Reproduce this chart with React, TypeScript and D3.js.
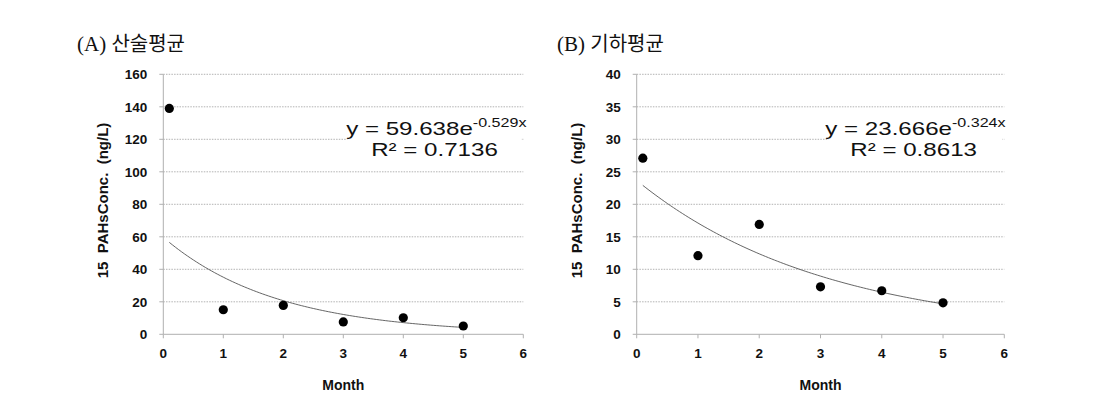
import React from "react";
import * as d3 from "d3";

const months = [0.1, 1, 2, 3, 4, 5];
const seriesA = [139, 15.1, 17.8, 7.6, 10.2, 5.1];
const seriesB = [27.1, 12.1, 16.9, 7.3, 6.7, 4.85];
const ticksA = [0, 20, 40, 60, 80, 100, 120, 140, 160];
const ticksB = [0, 5, 10, 15, 20, 25, 30, 35, 40];
const xTicks = [0, 1, 2, 3, 4, 5, 6];
const fitA = { a: 59.638, b: -0.529, r2: "0.7136", aText: "59.638", bText: "-0.529" };
const fitB = { a: 23.666, b: -0.324, r2: "0.8613", aText: "23.666", bText: "-0.324" };

type PanelProps = {
  title: string;
  left: number;
  right: number;
  yMax: number;
  yTicks: number[];
  values: number[];
  fit: typeof fitA;
  titleX: number;
};

const axisFont = "Arial, 'Liberation Sans', sans-serif";

function Panel({ title, left, right, yMax, yTicks, values, fit, titleX }: PanelProps) {
  const top = 74.3;
  const bottom = 334.3;
  const x = d3.scaleLinear().domain([0, 6]).range([left, right]);
  const y = d3.scaleLinear().domain([0, yMax]).range([bottom, top]);
  const fitPts = d3.range(0.1, 5.0001, 0.05).map((m) => [m, fit.a * Math.exp(fit.b * m)] as [number, number]);
  const line = d3.line<[number, number]>().x((d) => x(d[0])).y((d) => y(d[1]));
  const paren = title.slice(0, 4);
  const kor = title.slice(4);
  const sx = 1.34;
  return (
    <g>
      <text x={titleX} y={51} fontSize={21} fill="#111">
        <tspan fontFamily="'Liberation Serif', serif">{paren}</tspan>
        <tspan fontFamily="'Noto Sans CJK KR', sans-serif" fontSize={20}>{kor}</tspan>
      </text>
      {yTicks.filter((t) => t > 0).map((t) => (
        <line key={t} x1={x(0)} x2={x(6)} y1={y(t)} y2={y(t)} stroke="#a0a0a0" strokeWidth={0.8} strokeDasharray="1.5,1.2" />
      ))}
      <line x1={x(0)} x2={x(0)} y1={top} y2={bottom} stroke="#b0b0b0" strokeWidth={1} />
      <line x1={x(0)} x2={x(6)} y1={bottom} y2={bottom} stroke="#b0b0b0" strokeWidth={1} />
      {xTicks.map((t) => (
        <line key={t} x1={x(t)} x2={x(t)} y1={bottom} y2={bottom + 4} stroke="#b0b0b0" strokeWidth={1} />
      ))}
      {yTicks.map((t) => (
        <line key={"yt" + t} x1={x(0) - 4} x2={x(0)} y1={y(t)} y2={y(t)} stroke="#b0b0b0" strokeWidth={1} />
      ))}
      {yTicks.map((t) => (
        <text key={"yl" + t} x={x(0) - 16} y={y(t)} dy="0.36em" textAnchor="end" fontFamily={axisFont} fontWeight="bold" fontSize={13.5} fill="#111">
          {t}
        </text>
      ))}
      {xTicks.map((t) => (
        <text key={"xl" + t} x={x(t)} y={358} textAnchor="middle" fontFamily={axisFont} fontWeight="bold" fontSize={13.5} fill="#111">
          {t}
        </text>
      ))}
      <text x={(x(0) + x(6)) / 2} y={390} textAnchor="middle" fontFamily={axisFont} fontWeight="bold" fontSize={14} fill="#111">
        Month
      </text>
      <text transform={`translate(${left - 55},200.5) rotate(-90)`} textAnchor="middle" fontFamily={axisFont} fontWeight="bold" fontSize={15} fill="#111" style={{ whiteSpace: "pre" }}>
        {"15  PAHsConc.  (ng/L)"}
      </text>
      <path d={line(fitPts) || ""} fill="none" stroke="#555" strokeWidth={0.9} />
      <rect x={x(6) - 176} y={116} width={174} height={48} fill="#fff" />
      <g transform={`translate(${x(4.55)},135) scale(${sx},1)`}>
        <text x={0} y={0} textAnchor="middle" fontFamily={axisFont} fontSize={18} fill="#111">
          {"y = " + fit.aText + "e"}
          <tspan fontSize={12} dy={-8}>{fit.bText + "x"}</tspan>
        </text>
      </g>
      <g transform={`translate(${x(4.52)},156) scale(${sx},1)`}>
        <text x={0} y={0} textAnchor="middle" fontFamily={axisFont} fontSize={18} fill="#111">
          {"R² = " + fit.r2}
        </text>
      </g>
      {values.map((v, i) => (
        <circle key={i} cx={x(months[i])} cy={y(v)} r={4.6} fill="#000" />
      ))}
    </g>
  );
}

export default function App() {
  return (
    <svg width={1109} height={403} style={{ position: "absolute", left: 0, top: 0, background: "#fff" }}>
      <rect width={1109} height={403} fill="#fff" />
      <Panel title="(A) 산술평균" left={163.3} right={523.3} yMax={160} yTicks={ticksA} values={seriesA} fit={fitA} titleX={77} />
      <Panel title="(B) 기하평균" left={636.7} right={1004.3} yMax={40} yTicks={ticksB} values={seriesB} fit={fitB} titleX={557} />
    </svg>
  );
}
